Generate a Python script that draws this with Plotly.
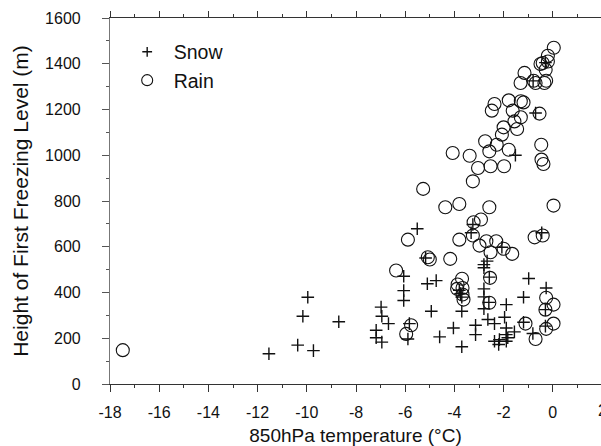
import plotly.graph_objects as go

# Snow cases: 850hPa temperature (°C), height of first freezing level (m)
snow_t = [-11.54, -10.37, -10.16, -9.96, -9.73, -8.7,
          -6.98, -6.95, -6.68, -7.18, -7.18, -6.95,
          -6.06, -6.06, -6.06, -5.51, -5.1, -4.74, -4.94, -4.6, -4.04, -3.7, -3.7, -3.14, -3.14,
          -2.8, -2.8, -2.67, -2.8, -2.8, -2.8, -2.64, -2.37, -1.96, -1.89, -1.89, -1.89, -1.56,
          -0.98, -1.19, -0.27,
          -2.37, -2.2, -2.17, -1.83, -1.89,
          -0.81, -2.6, -2.58, -5.83, -5.89, -0.3, -0.3, -1.19,
          -5.17, -3.25, -3.32, -2.07, -0.45, -1.52, -0.7, -0.8, -0.3,
          -3.75, -3.7, -3.8]
snow_h = [132, 170, 296, 379, 146, 272,
          336, 296, 264, 235, 202, 183,
          471, 408, 365, 679, 438, 452, 318, 206, 245, 163, 318, 257, 216,
          508, 522, 537, 416, 381, 329, 282, 264, 292, 347, 245, 216, 228,
          461, 379, 420,
          187, 173, 194, 202, 187,
          221, 357, 467, 264, 197, 325, 253, 270,
          551, 697, 661, 598, 661, 1000, 1185, 1325, 1405,
          395, 380, 410]

# Rain cases
rain_t = [0.04, -0.2, -0.41, -0.2, -0.29, -0.5,
          -1.15, -1.31, -0.78, -0.7, -0.34, -0.27,
          -2.37, -2.48, -1.79, -1.3, -1.19, -1.63, -1.3, -1.56, -1.45, -2.0, -2.07, -0.54,
          -2.75, -2.28, -2.58, -1.79, -0.47, -0.46, -0.38,
          -4.07, -3.38, -3.04, -2.53, -1.98, -3.25, -5.27,
          -4.37, -3.8, -2.58, 0.03, -2.92, -3.22, -3.25, -3.8, -5.89,
          -2.98, -2.7, -2.3, -2.53, -2.0, -1.65, -0.74, -0.41,
          -4.17, -5.0, -5.08, -6.37,
          -3.69, -3.87, -3.67, -3.89, -3.67, -3.63, -2.55, -2.58,
          -5.76, -5.96, -1.11, -0.7, -0.27, 0.03, -0.3, 0.03, -0.27,
          -17.48]
rain_h = [1470, 1435, 1403, 1410, 1374, 1399,
          1360, 1316, 1326, 1316, 1316, 1326,
          1224, 1195, 1240, 1236, 1231, 1195, 1166, 1148, 1115, 1122, 1090, 1182,
          1061, 1046, 1017, 1024, 1046, 981, 962,
          1010, 998, 944, 952, 952, 886, 853,
          773, 787, 773, 780, 719, 707, 649, 631, 631,
          605, 624, 624, 576, 591, 569, 641, 649,
          547, 544, 554, 496,
          460, 435, 420, 416, 391, 369, 464, 355,
          257, 219, 264, 197, 377, 347, 325, 264, 241,
          148]

x_ticks = [-18, -16, -14, -12, -10, -8, -6, -4, -2, 0, 2]
x_labels = [str(v) for v in x_ticks]   # plain hyphen-minus like the original
y_ticks = [0, 200, 400, 600, 800, 1000, 1200, 1400, 1600]

FONT = "Liberation Sans, Arial, sans-serif"
INK = "#111111"
PAD = "\u2004"  # small leading space between legend symbol and text

fig = go.Figure()
fig.add_trace(go.Scatter(
    x=rain_t, y=rain_h, mode="markers", name="Rain", showlegend=False,
    marker=dict(symbol="circle-open", size=13, color=INK, line=dict(width=1.1, color=INK))))
fig.add_trace(go.Scatter(
    x=snow_t, y=snow_h, mode="markers", name="Snow", showlegend=False,
    marker=dict(symbol="cross-thin-open", size=9, color=INK, line=dict(width=1.4, color=INK))))
# legend entries
fig.add_trace(go.Scatter(
    x=[None], y=[None], mode="markers", name=PAD + "Snow",
    marker=dict(symbol="cross-thin-open", size=7, color=INK, line=dict(width=1.4, color=INK))))
fig.add_trace(go.Scatter(
    x=[None], y=[None], mode="markers", name=PAD + "Rain",
    marker=dict(symbol="circle-open", size=11, color=INK, line=dict(width=1.1, color=INK))))
# invisible trace to drive the top axis
fig.add_trace(go.Scatter(x=[None], y=[None], xaxis="x2", showlegend=False, hoverinfo="skip"))

xr = [-18, -18 + 491 / 24.6]

fig.update_layout(
    width=601, height=446,
    margin=dict(l=110, r=0, t=18, b=62),
    paper_bgcolor="white", plot_bgcolor="white",
    font=dict(family=FONT, size=16, color=INK),
    showlegend=True,
    legend=dict(x=0.035, y=0.96, xanchor="left", yanchor="top",
                bgcolor="rgba(0,0,0,0)", font=dict(size=19.5), traceorder="normal",
                itemwidth=30),
    xaxis=dict(range=xr, tickvals=x_ticks, ticktext=x_labels, ticks="outside", ticklen=7,
               tickwidth=1, tickcolor="#333", showline=True, linecolor="#333", linewidth=1.2,
               showgrid=False, zeroline=False, ticklabelstandoff=7,
               minor=dict(dtick=1, tick0=-18, ticks="outside", ticklen=3, tickcolor="#333"),
               title=dict(text="850hPa temperature (°C)", font=dict(size=19), standoff=9)),
    xaxis2=dict(range=xr, overlaying="x", side="top", tickvals=x_ticks, ticks="outside",
                ticklen=6, tickcolor="#333", showline=True, linecolor="#333", linewidth=1.2,
                showticklabels=False, showgrid=False, zeroline=False,
                minor=dict(dtick=1, tick0=-18, ticks="outside", ticklen=3, tickcolor="#333")),
    yaxis=dict(range=[0, 1600], tickvals=y_ticks, ticks="outside", ticklen=7,
               tickcolor="#555", showline=True, linecolor="#777", linewidth=1.2,
               showgrid=False, zeroline=False, ticklabelstandoff=18,
               minor=dict(dtick=100, ticks="outside", ticklen=3, tickcolor="#555"),
               title=dict(text="Height of First Freezing Level (m)", font=dict(size=21), standoff=10)),
)

# tick label "2" at the cut-off right edge, as in the original
fig.add_annotation(text=x_labels[-1], xref="paper", yref="paper", x=1 + 1 / 491, y=0,
                   yshift=-26, xanchor="center", yanchor="middle", showarrow=False,
                   font=dict(size=16, family=FONT, color=INK))

fig.write_html("out.html")
